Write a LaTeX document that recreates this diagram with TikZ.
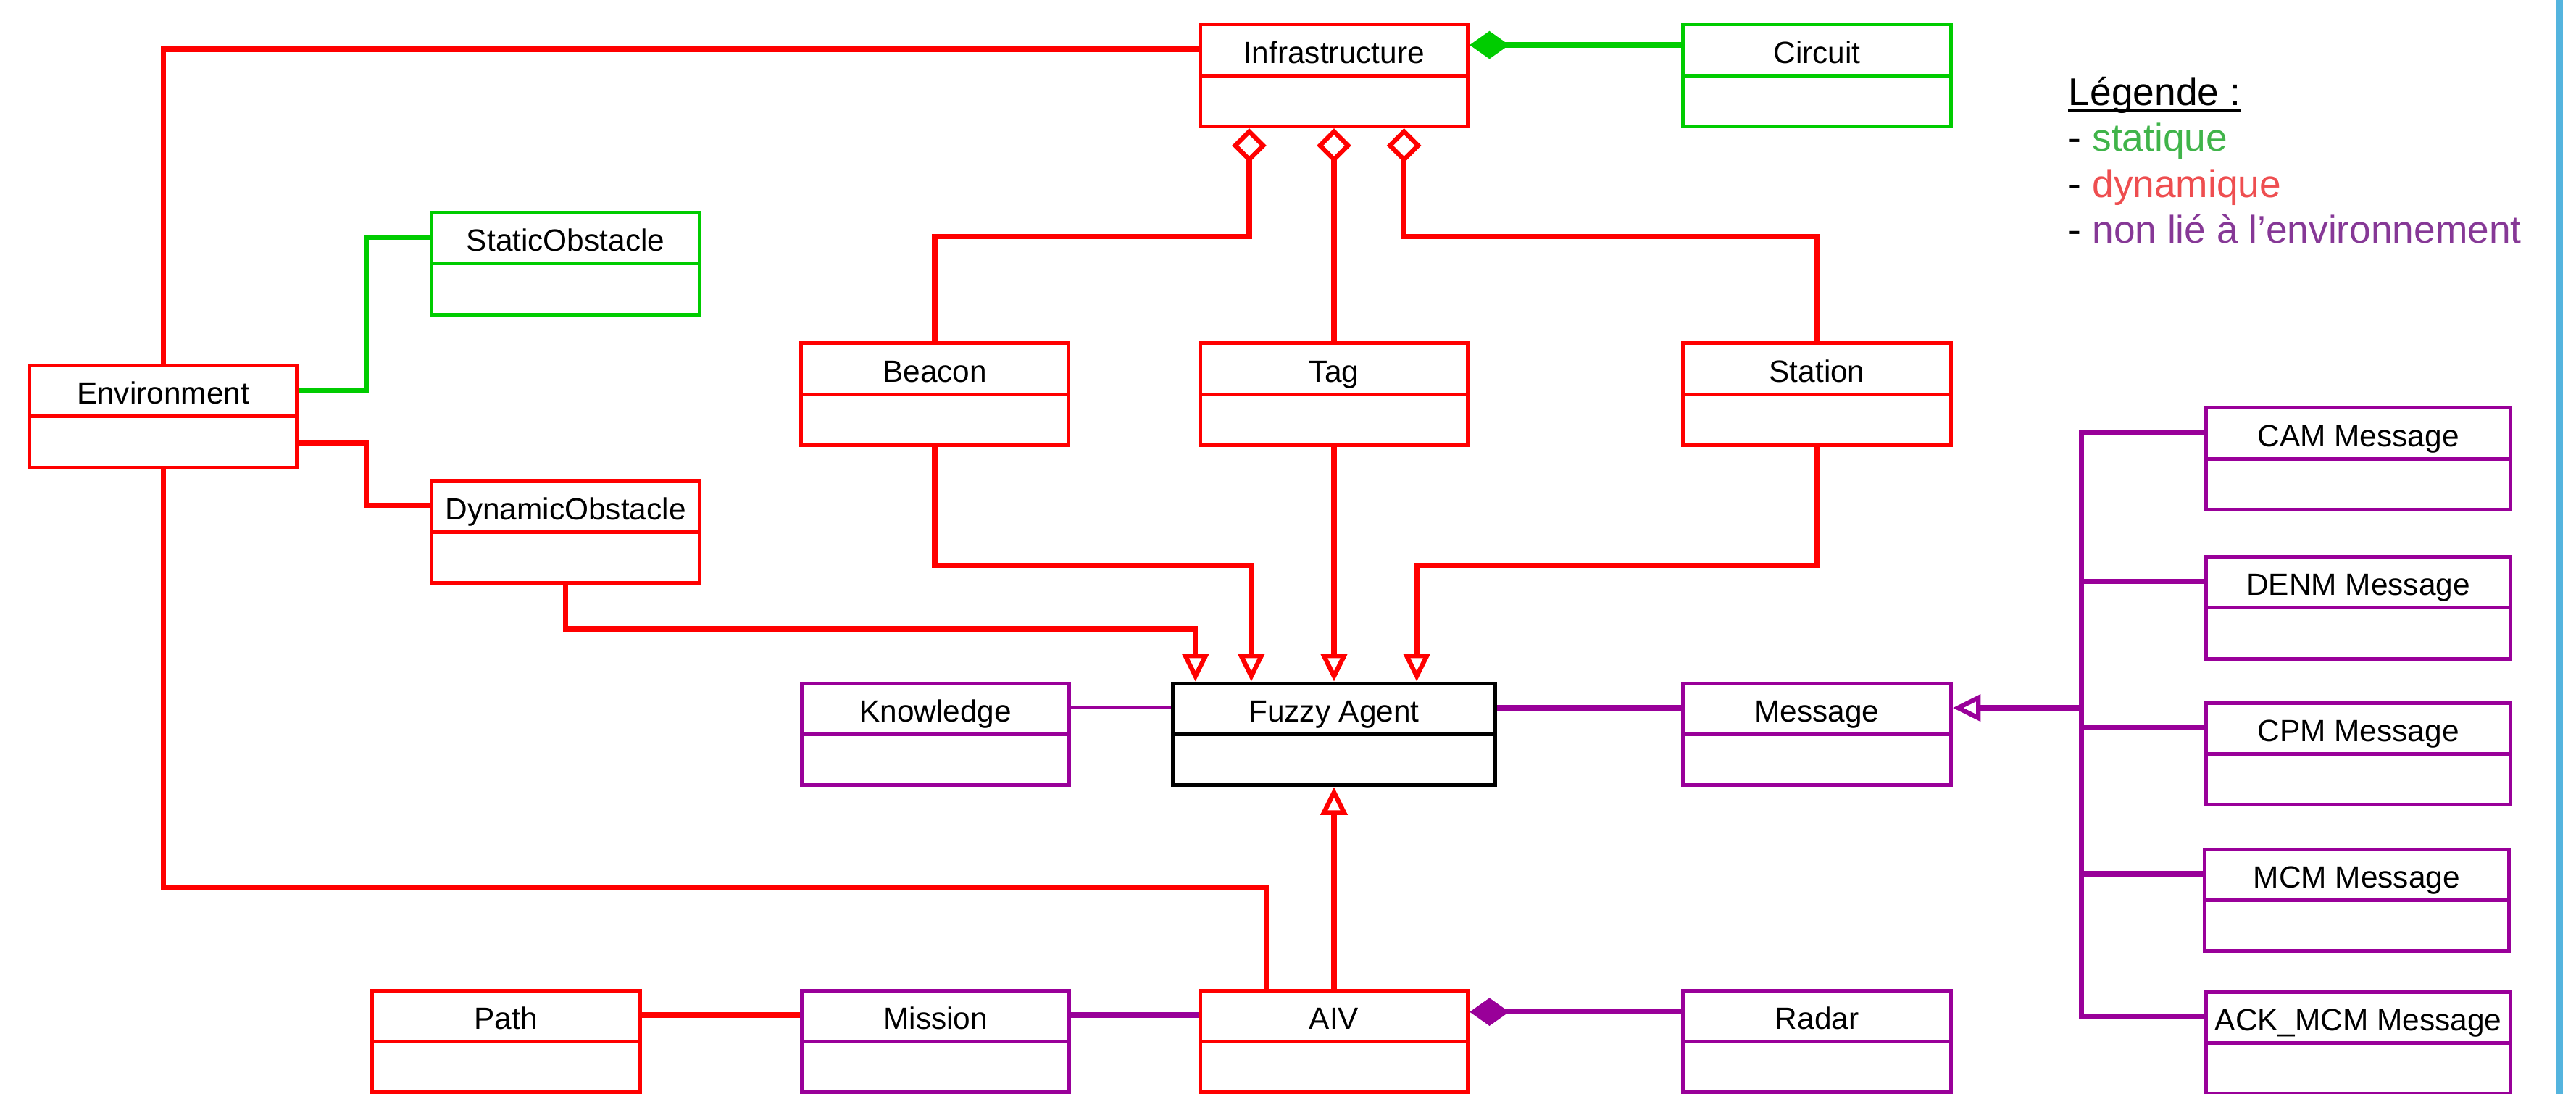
\documentclass[tikz,border=0pt]{standalone}
\usepackage{fontspec}
\setmainfont{Liberation Sans}
\usetikzlibrary{arrows.meta,calc}
\definecolor{umlred}{RGB}{255,0,0}
\definecolor{umlgreen}{RGB}{0,204,0}
\definecolor{umlpurple}{RGB}{153,0,153}
\definecolor{legendgreen}{RGB}{64,180,74}
\definecolor{legendred}{RGB}{238,78,80}
\definecolor{legendpurple}{RGB}{134,56,150}
\definecolor{sidebar}{RGB}{84,180,222}

\begin{document}
\begin{tikzpicture}[yscale=-1
,umlbox/.style={draw=#1,line width=2.2pt,inner sep=0pt,minimum width=163pt,minimum height=62pt,text height=23.5pt,text depth=38.5pt,font=\fontsize{18.7pt}{22pt}\selectfont,path picture={\draw[color=#1,line width=2.2pt] (path picture bounding box.west) -- (path picture bounding box.east);}}
,conn/.style={color=#1,line width=3.2pt}
,gen/.style={-{Triangle[open,length=17pt,width=16pt,line width=2.8pt]}}
,aggr/.style={{Diamond[open,length=21pt,width=21pt,line width=2.8pt]}-}
,comp/.style={{Diamond[length=24pt,width=17pt]}-}
,legendtext/.style={anchor=base west,inner sep=0pt,font=\fontsize{23.5pt}{28pt}\selectfont}
]
\useasboundingbox (0pt,0pt) rectangle (1568pt,666pt);
\draw[color=sidebar,line width=4.3pt] (1557.9pt,0pt) -- (1557.9pt,666pt);
% classes
\node (infra) at (812pt,46pt)[umlbox=umlred]{Infrastructure};
\node (circuit) at (1106pt,46pt)[umlbox=umlgreen]{Circuit};
\node (static) at (344.3pt,160.5pt)[umlbox=umlgreen]{StaticObstacle};
\node (env) at (99.3pt,253.5pt)[umlbox=umlred]{Environment};
\node (dyn) at (344.3pt,323.8pt)[umlbox=umlred]{DynamicObstacle};
\node (beacon) at (569pt,240pt)[umlbox=umlred]{Beacon};
\node (tag) at (812pt,240pt)[umlbox=umlred]{Tag};
\node (station) at (1106pt,240pt)[umlbox=umlred]{Station};
\node (know) at (569.5pt,447pt)[umlbox=umlpurple]{Knowledge};
\node (agent) at (812pt,447pt)[umlbox=black,minimum width=196.5pt]{Fuzzy Agent};
\node (msg) at (1106pt,447pt)[umlbox=umlpurple]{Message};
\node (cam) at (1435.5pt,279.3pt)[umlbox=umlpurple,minimum width=185pt]{CAM Message};
\node (denm) at (1435.5pt,370pt)[umlbox=umlpurple,minimum width=185pt]{DENM Message};
\node (cpm) at (1435.5pt,459pt)[umlbox=umlpurple,minimum width=185pt]{CPM Message};
\node (mcm) at (1434.5pt,548pt)[umlbox=umlpurple,minimum width=185pt]{MCM Message};
\node (ack) at (1435.5pt,635pt)[umlbox=umlpurple,minimum width=185pt]{ACK\_MCM Message};
\node (pth) at (308pt,634pt)[umlbox=umlred]{Path};
\node (mission) at (569.5pt,634pt)[umlbox=umlpurple]{Mission};
\node (aiv) at (812pt,634pt)[umlbox=umlred]{AIV};
\node (radar) at (1106pt,634pt)[umlbox=umlpurple]{Radar};
% environment links
\draw[conn=umlred] (env.north) |- ($(infra.north west)!.25!(infra.south west)$);
\draw[conn=umlgreen] ($(env.north east)!.25!(env.south east)$) -- ++(41pt,0) |- ($(static.north west)!.25!(static.south west)$);
\draw[conn=umlred] ($(env.north east)!.75!(env.south east)$) -- ++(41pt,0) |- ($(dyn.north west)!.25!(dyn.south west)$);
\draw[conn=umlred] (env.south) -- ++(0,255pt) -| ($(aiv.north west)!.25!(aiv.north east)$);
\draw[conn=umlred,gen] (dyn.south) -- ++(0,27pt) -| ([xshift=15pt]agent.north west);
% infrastructure links
\draw[conn=umlred,aggr] ([xshift=31pt]infra.south west) -- ++(0,66pt) -| (beacon.north);
\draw[conn=umlred,aggr] (infra.south) -- (tag.north);
\draw[conn=umlred,aggr] ([xshift=-40pt]infra.south east) -- ++(0,66pt) -| (station.north);
\draw[conn=umlgreen,comp] ($(infra.north east)!.21!(infra.south east)$) -- ($(circuit.north west)!.21!(circuit.south west)$);
% fuzzy agent links
\draw[conn=umlred,gen] (beacon.south) -- ++(0,72pt) -| ([xshift=49pt]agent.north west);
\draw[conn=umlred,gen] (tag.south) -- (agent.north);
\draw[conn=umlred,gen] (station.south) -- ++(0,72pt) -| ([xshift=-49pt]agent.north east);
\draw[conn=umlred,gen] (aiv.north) -- (agent.south);
\draw[conn=umlpurple,line width=1.6pt] ($(know.north east)!.25!(know.south east)$) -- ($(agent.north west)!.25!(agent.south west)$);
\draw[conn=umlpurple] ($(agent.north east)!.25!(agent.south east)$) -- ($(msg.north west)!.25!(msg.south west)$);
% message kinds
\coordinate (trunk) at ($(msg.north east)!.25!(msg.south east)+(78.5pt,0)$);
\draw[conn=umlpurple,gen] (trunk) -- ($(msg.north east)!.25!(msg.south east)$);
\draw[conn=umlpurple] ($(cam.north west)!.25!(cam.south west)$) -| (trunk);
\draw[conn=umlpurple] ($(denm.north west)!.25!(denm.south west)$) -| (trunk);
\draw[conn=umlpurple] ($(cpm.north west)!.25!(cpm.south west)$) -| (trunk);
\draw[conn=umlpurple] ($(mcm.north west)!.25!(mcm.south west)$) -| (trunk);
\draw[conn=umlpurple] ($(ack.north west)!.25!(ack.south west)$) -| (trunk);
% AIV links
\draw[conn=umlpurple,comp] ($(aiv.north east)!.22!(aiv.south east)$) -- ($(radar.north west)!.22!(radar.south west)$);
\draw[conn=umlpurple] ($(mission.north east)!.25!(mission.south east)$) -- ($(aiv.north west)!.25!(aiv.south west)$);
\draw[conn=umlred] ($(pth.north east)!.25!(pth.south east)$) -- ($(mission.north west)!.25!(mission.south west)$);
% legend
\node (legtitle) at (1259pt,64pt)[legendtext]{Légende :};
\path (legtitle.base west) ++(0,3pt) coordinate (legline);
\draw[line width=1.6pt] (legline) -- (legline -| legtitle.base east);
\node (legstat) at (1259pt,92pt)[legendtext]{- {\color{legendgreen}statique}};
\node (legdyn) at (1259pt,120pt)[legendtext]{- {\color{legendred}dynamique}};
\node (legnon) at (1259pt,148pt)[legendtext]{- {\color{legendpurple}non lié à l’environnement}};
\end{tikzpicture}
\end{document}
